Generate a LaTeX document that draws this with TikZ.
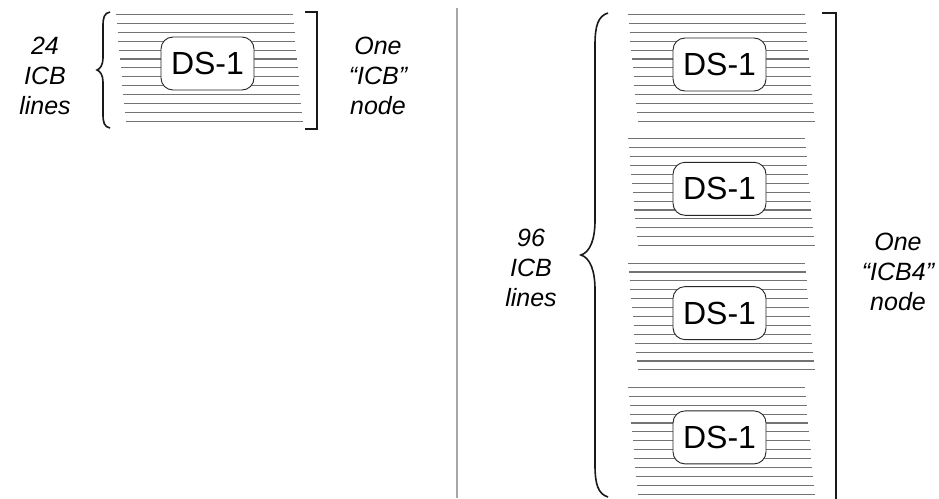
\documentclass[tikz,border=0pt]{standalone}
\usepackage{fontspec}
\setmainfont{Liberation Sans}
\begin{document}
\begin{tikzpicture}[x=1pt,y=-1pt,
  icbline/.style={draw=black!55,line width=1.1pt},
  dsbox/.style={draw=black!85,line width=0.9pt,fill=white,rounded corners=12pt,
    minimum width=93pt,minimum height=53pt,inner sep=0pt,
    font=\fontsize{32}{36}\selectfont},
  lbl/.style={align=center,inner sep=0pt,font=\fontsize{25}{30}\selectfont\itshape},
  bracestyle/.style={draw=black!90,line width=1.6pt},
  bracket/.style={draw=black!90,line width=1.8pt,line join=miter},
  divider/.style={draw=black!35,line width=1.2pt}]
\useasboundingbox (0,0) rectangle (939,498);
% divider
\draw[divider] (457,8) -- (457,498);
% left block
\foreach \i in {0,...,12}
  \draw[icbline] ({116+0.8*\i},{14.5+8.9*\i}) -- ++(177,0);
\node[dsbox] (dsL) at (207.5,63.5) {DS-1};
% right blocks
\foreach \k in {0,...,3}{
  \foreach \i in {0,...,12}
    \draw[icbline] ({628+0.8*\i},{14.5+124.3*\k+8.9*\i}) -- ++(177,0);
  \node[dsbox] (ds\k) at (719.5,{64.5+124.3*\k}) {DS-1};
}
% left brace
\draw[bracestyle] (110,12) .. controls (104,13) and (103,18) .. (103,26) -- (103,58)
  .. controls (103,65) and (100,69) .. (97,70)
  .. controls (100,71) and (103,75) .. (103,82) -- (103,114)
  .. controls (103,122) and (104,127) .. (110,128);
% left bracket
\draw[bracket] (305,12) -- (317,12) -- (317,129) -- (305,129);
% right brace
\draw[bracestyle] (608,13) .. controls (598,16) and (595,26) .. (595,45) -- (595,220)
  .. controls (595,240) and (590,252) .. (581,255)
  .. controls (590,258) and (595,270) .. (595,290) -- (595,465)
  .. controls (595,484) and (598,494) .. (608,497);
% right bracket
\draw[bracket] (822,13) -- (836,13) -- (836,501) -- (822,501);
% labels
\node[lbl] (lblL) at (45,76) {24\\ICB\\lines};
\node[lbl] (lblLR) at (378,76) {One\\“ICB”\\node};
\node[lbl] (lblR) at (531,268) {96\\ICB\\lines};
\node[lbl] (lblRR) at (898,272) {One\\“ICB4”\\node};
\end{tikzpicture}
\end{document}
